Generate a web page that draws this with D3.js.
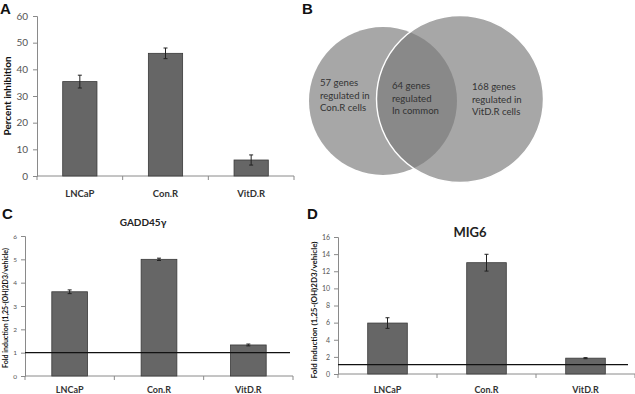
<!DOCTYPE html>
<html>
<head>
<meta charset="utf-8">
<script src="https://cdn.jsdelivr.net/npm/d3@7"></script>
<style>
  body { margin: 0; background: #fff; }
  svg { display: block; font-family: Lato, "Open Sans", sans-serif; }
</style>
</head>
<body>
<svg id="fig" width="635" height="394"></svg>
<script>
const cells = ["LNCaP", "Con.R", "VitD.R"];

// A: percent inhibition
const inhibition = [35.4, 46.0, 6.0];
const inhibitionErr = [2.4, 2.0, 1.9];
const inhibitionTicks = [0, 10, 20, 30, 40, 50, 60];

// B: venn counts
const vennLabels = [
  ["57 genes", "regulated in", "Con.R cells"],
  ["64 genes", "regulated", "In common"],
  ["168 genes", "regulated in", "VitD.R cells"]
];

// C: GADD45g fold induction
const gadd = [3.61, 5.0, 1.33];
const gaddErr = [0.08, 0.05, 0.04];
const gaddTicks = [0, 1, 2, 3, 4, 5, 6];

// D: MIG6 fold induction
const mig = [5.95, 13.0, 1.85];
const migErr = [0.62, 0.98, 0.06];
const migTicks = [0, 2, 4, 6, 8, 10, 12, 14, 16];

const svg = d3.select("#fig");
const barFill = "#666666";
const barStroke = "#3a3a3a";
const axisColor = "#8a8a8a";

function panelLetter(t, x, y) {
  svg.append("text").attr("x", x).attr("y", y)
    .attr("font-family", "Liberation Sans, Arial, sans-serif")
    .attr("font-weight", "bold").attr("font-size", 15).attr("fill", "#111")
    .text(t);
}

function barPanel(o) {
  const g = svg.append("g");
  const x = d3.scaleBand().domain(cells).range([o.x0, o.x1]);
  const y = d3.scaleLinear().domain([0, o.max]).range([o.y0, o.y1]);

  // y axis
  const ya = g.append("g").attr("transform", `translate(${o.x0},0)`)
    .call(d3.axisLeft(y).tickValues(o.ticks).tickFormat(d3.format("d"))
      .tickSize(4).tickPadding(o.tickPad));
  ya.attr("font-size", null).attr("font-family", null);
  ya.select(".domain").attr("stroke", axisColor);
  ya.selectAll(".tick line").attr("stroke", axisColor);
  ya.selectAll(".tick text").attr("fill", "#555")
    .style("font-size", o.tickFont + "px");

  // x axis with boundary ticks
  g.append("line").attr("x1", o.x0).attr("x2", o.x1)
    .attr("y1", o.y0).attr("y2", o.y0).attr("stroke", axisColor);
  const bounds = [o.x0].concat(cells.map(c => x(c) + x.bandwidth()));
  g.selectAll(".xt").data(bounds).join("line")
    .attr("x1", d => d).attr("x2", d => d)
    .attr("y1", o.y0).attr("y2", o.y0 + 4).attr("stroke", axisColor);

  const bw = x.bandwidth() * o.barFrac;
  g.selectAll(".bar").data(o.values).join("rect")
    .attr("x", (d, i) => x(cells[i]) + (x.bandwidth() - bw) / 2)
    .attr("y", d => y(d))
    .attr("width", bw)
    .attr("height", d => y(0) - y(d))
    .attr("fill", barFill).attr("stroke", barStroke).attr("stroke-width", 0.8);

  // error bars
  const eb = g.selectAll(".err").data(o.values).join("g")
    .attr("transform", (d, i) => `translate(${x(cells[i]) + x.bandwidth() / 2},0)`);
  eb.append("line").attr("y1", (d, i) => y(d + o.err[i])).attr("y2", (d, i) => y(d - o.err[i]))
    .attr("stroke", "#222").attr("stroke-width", 1);
  eb.append("line").attr("x1", -2).attr("x2", 2)
    .attr("y1", (d, i) => y(d + o.err[i])).attr("y2", (d, i) => y(d + o.err[i]))
    .attr("stroke", "#222");
  eb.append("line").attr("x1", -2).attr("x2", 2)
    .attr("y1", (d, i) => y(d - o.err[i])).attr("y2", (d, i) => y(d - o.err[i]))
    .attr("stroke", "#222");

  // reference line
  if (o.refLine != null) {
    g.append("line").attr("x1", o.x0).attr("x2", o.refEnd)
      .attr("y1", y(o.refLine)).attr("y2", y(o.refLine))
      .attr("stroke", "#111").attr("stroke-width", 1.1);
  }

  // category labels
  g.selectAll(".cat").data(cells).join("text")
    .attr("x", c => x(c) + x.bandwidth() / 2).attr("y", o.catY)
    .attr("text-anchor", "middle").attr("font-weight", "bold")
    .attr("font-size", o.catFont).attr("fill", "#333").text(c => c);

  // y label
  g.append("text")
    .attr("transform", `translate(${o.ylabX},${o.ylabY}) rotate(-90)`)
    .attr("text-anchor", "middle").attr("font-weight", "bold")
    .attr("font-size", o.ylabFont).attr("fill", "#111").text(o.ylab);

  if (o.title) {
    g.append("text").attr("x", o.titleX).attr("y", o.titleY)
      .attr("text-anchor", "middle").attr("font-weight", "bold")
      .attr("font-size", o.titleFont).attr("fill", "#222").text(o.title);
  }
}

// Panel A
panelLetter("A", 0, 14);
barPanel({
  x0: 37, x1: 294, y0: 176, y1: 16, max: 60, ticks: inhibitionTicks,
  values: inhibition, err: inhibitionErr, barFrac: 0.4,
  tickFont: 10, tickPad: 5, catY: 197, catFont: 9.5,
  ylab: "Percent inhibition", ylabX: 11, ylabY: 96, ylabFont: 10
});

// Panel B: venn
panelLetter("B", 302, 14);
const venn = svg.append("g");
const circles = [
  { cx: 383, cy: 101, r: 74 },
  { cx: 460, cy: 99, r: 83.5 }
];
venn.selectAll("circle").data(circles).join("circle")
  .attr("cx", d => d.cx).attr("cy", d => d.cy).attr("r", d => d.r)
  .attr("fill", "#7a7a7a").attr("fill-opacity", 0.66)
  .attr("stroke", (d, i) => i === 1 ? "#fff" : "none").attr("stroke-width", 1.4);
const labelPos = [[320, 86], [392, 89], [472, 90]];
vennLabels.forEach((lines, i) => {
  const t = venn.append("text").attr("x", labelPos[i][0]).attr("y", labelPos[i][1])
    .attr("font-size", 9.6).attr("fill", "#333");
  lines.forEach((l, j) => t.append("tspan").attr("x", labelPos[i][0]).attr("dy", j ? 12.5 : 0).text(l));
});

// Panel C
panelLetter("C", 2, 219);
barPanel({
  x0: 25, x1: 293, y0: 376, y1: 236, max: 6, ticks: gaddTicks,
  values: gadd, err: gaddErr, barFrac: 0.4, refLine: 1, refEnd: 290,
  tickFont: 6.5, tickPad: 4, catY: 393, catFont: 9,
  ylab: "Fold induction (1,25-(OH)2D3/vehicle)", ylabX: 8, ylabY: 308, ylabFont: 7,
  title: "GADD45\u03b3", titleX: 143, titleY: 226, titleFont: 10
});

// Panel D
panelLetter("D", 307, 219);
barPanel({
  x0: 338, x1: 635, y0: 374, y1: 237, max: 16, ticks: migTicks,
  values: mig, err: migErr, barFrac: 0.4, refLine: 1.1, refEnd: 628,
  tickFont: 7, tickPad: 4, catY: 393, catFont: 9,
  ylab: "Fold induction (1,25-(OH)2D3/vehicle)", ylabX: 317, ylabY: 310, ylabFont: 8,
  title: "MIG6", titleX: 470, titleY: 237, titleFont: 13
});
</script>
</body>
</html>
